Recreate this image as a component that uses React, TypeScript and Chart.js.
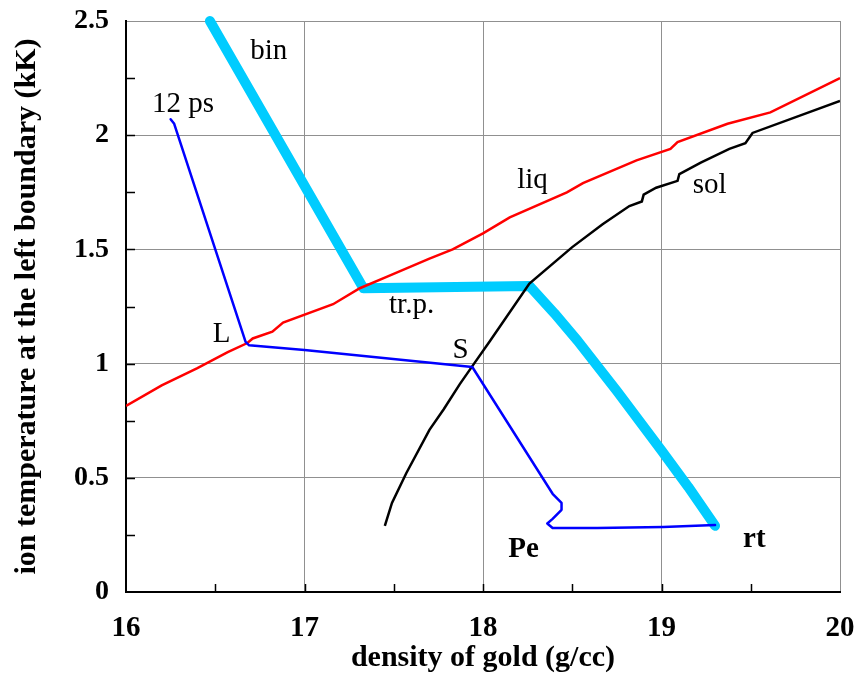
import React, { useEffect, useRef } from "react";
import { Chart, registerables } from "chart.js";

Chart.register(...registerables);

// ---- data ----
const binX = [16.47, 17.33, 18.26, 18.4, 18.53, 18.75, 19.0, 19.15, 19.3];
const binY = [2.5, 1.33, 1.34, 1.22, 1.1, 0.88, 0.62, 0.46, 0.29];

const liqX = [16.0, 16.2, 16.4, 16.57, 16.68, 16.71, 16.82, 16.88, 17.16, 17.31, 17.46, 17.7, 17.83, 18.0, 18.15, 18.47, 18.56, 18.86, 19.05, 19.09, 19.37, 19.61, 20.0];
const liqY = [0.815, 0.905, 0.98, 1.05, 1.09, 1.11, 1.14, 1.18, 1.26, 1.33, 1.38, 1.46, 1.5, 1.57, 1.64, 1.75, 1.79, 1.89, 1.94, 1.97, 2.05, 2.1, 2.25];

const solX = [17.45, 17.49, 17.57, 17.7, 17.78, 17.87, 17.95, 18.04, 18.26, 18.5, 18.67, 18.82, 18.89, 18.9, 18.97, 19.09, 19.1, 19.22, 19.38, 19.47, 19.51, 20.0];
const solY = [0.29, 0.39, 0.52, 0.71, 0.8, 0.91, 1.0, 1.1, 1.35, 1.51, 1.61, 1.69, 1.71, 1.74, 1.77, 1.8, 1.83, 1.88, 1.94, 1.965, 2.01, 2.15];

const trajX = [16.25, 16.27, 16.67, 16.69, 17.0, 17.94, 18.39, 18.44, 18.44, 18.39, 18.36, 18.39, 18.64, 19.01, 19.3];
const trajY = [2.07, 2.05, 1.095, 1.08, 1.06, 0.985, 0.43, 0.39, 0.36, 0.32, 0.3, 0.28, 0.28, 0.285, 0.293];

const labelText = ["bin", "12 ps", "L", "tr.p.", "liq", "sol", "S", "Pe", "rt"];
const labelX = [16.8, 16.32, 16.535, 17.6, 18.277, 19.27, 17.874, 18.227, 19.52];
const labelY = [2.334, 2.1, 1.095, 1.22, 1.77, 1.747, 1.025, 0.153, 0.197];
const labelBold = [false, false, false, false, false, false, false, true, true];

const xTicks = [16, 17, 18, 19, 20];
const yTicks = [0, 0.5, 1, 1.5, 2, 2.5];
const xMinor = [16.5, 17, 17.5, 18, 18.5, 19, 19.5];
const yMinor = [0.25, 0.5, 0.75, 1, 1.25, 1.5, 1.75, 2, 2.25];

const xTitle = "density of gold (g/cc)";
const yTitle = "ion temperature at the left boundary (kK)";

const pts = (xs: number[], ys: number[]) => xs.map((x, i) => ({ x, y: ys[i] }));

const FONT = "'Liberation Serif', 'Times New Roman', serif";

const decorPlugin = {
  id: "decor",
  beforeDatasetsDraw(chart: any) {
    const { ctx, chartArea, scales } = chart;
    ctx.save();
    ctx.strokeStyle = "#000";
    ctx.lineWidth = 1.5;
    ctx.beginPath();
    for (const v of yMinor) {
      const py = Math.round(scales.y.getPixelForValue(v)) + 0.5;
      ctx.moveTo(chartArea.left, py);
      ctx.lineTo(chartArea.left + 9, py);
    }
    for (const v of xMinor) {
      const px = Math.round(scales.x.getPixelForValue(v)) + 0.5;
      ctx.moveTo(px, chartArea.bottom);
      ctx.lineTo(px, chartArea.bottom - 8);
    }
    ctx.stroke();
    ctx.restore();
  },
  afterDatasetsDraw(chart: any) {
    const { ctx, scales } = chart;
    ctx.save();
    ctx.fillStyle = "#000";
    ctx.textAlign = "center";
    ctx.textBaseline = "alphabetic";
    labelText.forEach((t, i) => {
      ctx.font = `${labelBold[i] ? "bold " : ""}29px ${FONT}`;
      ctx.fillText(t, scales.x.getPixelForValue(labelX[i]), scales.y.getPixelForValue(labelY[i]));
    });
    ctx.restore();
  },
};

export default function App() {
  const ref = useRef<HTMLCanvasElement | null>(null);
  useEffect(() => {
    if (!ref.current) return;
    const chart = new Chart(ref.current, {
      type: "scatter",
      data: {
        datasets: [
          {
            data: pts(trajX, trajY),
            showLine: true,
            borderColor: "#0000ff",
            borderWidth: 2.5,
            pointRadius: 0,
            borderJoinStyle: "round",
            borderCapStyle: "round",
            order: 1,
          },
          {
            data: pts(liqX, liqY),
            showLine: true,
            borderColor: "#ff0000",
            borderWidth: 2.5,
            pointRadius: 0,
            order: 2,
          },
          {
            data: pts(solX, solY),
            showLine: true,
            borderColor: "#000000",
            borderWidth: 2.5,
            pointRadius: 0,
            order: 3,
          },
          {
            data: pts(binX, binY),
            showLine: true,
            borderColor: "#00ccff",
            borderWidth: 10,
            pointRadius: 0,
            borderJoinStyle: "round",
            borderCapStyle: "round",
            clip: false,
            order: 4,
          },
        ] as any,
      },
      options: {
        responsive: false,
        animation: false,
        events: [],
        layout: { padding: { left: 0, right: 18, top: 21, bottom: 0 } },
        plugins: { legend: { display: false }, tooltip: { enabled: false } },
        scales: {
          x: {
            type: "linear",
            min: 16,
            max: 20,
            afterBuildTicks: (s: any) => {
              s.ticks = xTicks.map((v) => ({ value: v }));
            },
            afterFit: (s: any) => {
              s.height = 85;
              s.paddingLeft = 0;
              s.paddingRight = 0;
            },
            ticks: {
              color: "#000",
              padding: 19,
              font: { family: FONT, size: 29, weight: "bold" },
              callback: (v: any) => String(v),
            },
            grid: { color: "#909090", lineWidth: 1, drawTicks: false },
            border: { color: "#000", width: 2 },
            title: {
              display: true,
              text: xTitle,
              color: "#000",
              padding: { top: 0, bottom: 1 },
              font: { family: FONT, size: 30, weight: "bold" },
            },
          },
          y: {
            type: "linear",
            min: 0,
            max: 2.5,
            afterBuildTicks: (s: any) => {
              s.ticks = yTicks.map((v) => ({ value: v }));
            },
            afterFit: (s: any) => {
              s.width = 126;
              s.paddingTop = 0;
              s.paddingBottom = 0;
            },
            ticks: {
              color: "#000",
              padding: 17,
              font: { family: FONT, size: 28, weight: "bold" },
              callback: (v: any) => String(v),
            },
            grid: { color: "#909090", lineWidth: 1, drawTicks: false },
            border: { color: "#000", width: 2 },
            title: {
              display: true,
              text: yTitle,
              color: "#000",
              padding: { top: 9, bottom: 0 },
              font: { family: FONT, size: 30, weight: "bold" },
            },
          },
        },
      } as any,
      plugins: [decorPlugin],
    });
    return () => chart.destroy();
  }, []);
  return (
    <div style={{ position: "absolute", left: 0, top: 0, width: 858, height: 677, background: "#fff" }}>
      <canvas ref={ref} width={858} height={677} style={{ display: "block" }} />
    </div>
  );
}
